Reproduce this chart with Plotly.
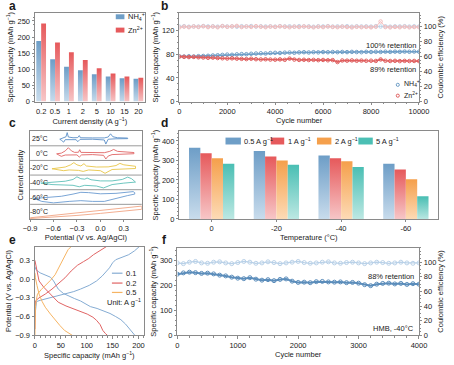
import plotly.graph_objects as go

W, H = 454, 365
FONT = "Liberation Sans, Arial, Helvetica, sans-serif"
TXT = "#1a1a1a"
AX = "#8a8a8a"

# ---------------- data ----------------
# panel a
rates_a = ["0.2", "0.5", "1", "2", "5", "10", "15", "20"]
nh4_rate_cap = [188, 131, 108, 97, 85, 78, 72, 71]
zn_rate_cap = [242, 183, 153, 129, 103, 87, 78, 74]

# panel b (every 200 cycles)
b_step = 200
nh4_cap = [76.5, 76.1, 76.6, 76.2, 76.8, 77.1, 77.4, 77.9, 78.3, 78.9,
           79.4, 79.1, 79.8, 80.3, 80.1, 80.8, 81.2, 81.6, 81.3, 82.0,
           82.4, 82.1, 82.7, 82.9, 82.5, 83.1, 83.4, 83.0, 83.5, 83.2,
           83.7, 83.4, 83.8, 83.5, 83.9, 83.6, 84.0, 83.7, 83.5, 84.1,
           83.8, 84.2, 83.9, 84.3, 84.0, 84.4, 84.1, 84.5, 84.2, 84.6, 84.3]
zn_cap = [76.0, 75.6, 75.2, 75.5, 74.8, 74.5, 74.0, 74.3, 73.6, 73.2,
          72.8, 73.1, 72.5, 72.2, 71.8, 72.4, 71.6, 71.2, 71.5, 71.0,
          70.8, 71.3, 70.6, 72.6, 71.0, 70.4, 70.7, 70.2, 70.5, 70.0,
          70.3, 69.8, 70.1, 66.8, 69.5, 69.2, 69.6, 69.0, 69.3, 68.9,
          69.1, 68.7, 71.2, 69.0, 68.6, 68.9, 68.4, 68.8, 68.5, 68.7, 68.4]
zn_ce = [98.5, 99.6, 98.9, 99.8, 99.2, 100.1, 99.0, 99.7, 98.8, 100.3,
         99.4, 99.9, 100.6, 99.1, 99.8, 99.3, 100.2, 99.5, 98.9, 99.7,
         99.2, 100.0, 99.4, 98.8, 99.6, 99.1, 99.9, 99.3, 98.7, 99.5,
         99.0, 99.8, 99.2, 98.9, 99.6, 99.1, 98.6, 99.4, 98.9, 99.3,
         98.7, 99.5, 106.5, 99.0, 98.6, 99.2, 98.8, 99.4, 98.7, 99.1, 98.9]
nh4_ce = [99.8, 100.2, 99.5, 100.0, 99.7, 100.4, 99.9, 100.1, 99.6, 100.3,
          99.8, 100.0, 99.5, 100.2, 99.9, 100.4, 99.7, 100.1, 99.8, 100.0,
          99.6, 100.3, 99.9, 100.1, 99.7, 100.2, 99.8, 100.0, 99.5, 100.1,
          99.9, 100.3, 99.7, 100.0, 99.8, 100.2, 99.6, 100.1, 99.9, 100.0,
          99.7, 100.2, 99.8, 100.1, 99.6, 100.0, 99.9, 100.2, 99.7, 100.1, 99.8]

# panel c  (potential V, normalized current per temperature)
cv_temps = ["25°C", "0°C", "-20°C", "-40°C", "-60°C", "-80°C"]
cv_colors = ["#5b8fc7", "#e06464", "#e8c547", "#5dbfb8", "#6b9bd0", "#f0a584"]
cv_v = [
    [-0.52, -0.47, -0.44, -0.425, -0.41, -0.35, -0.29, -0.27, -0.255, -0.1, 0.05, 0.1, 0.13, 0.16, 0.22, 0.35,
     0.35, 0.2, 0.1, 0.07, 0.05, -0.1, -0.26, -0.29, -0.31, -0.45, -0.47, -0.5, -0.52],
    [-0.56, -0.5, -0.45, -0.41, -0.37, -0.33, -0.28, -0.265, -0.25, -0.1, 0.05, 0.12, 0.17, 0.22, 0.32, 0.43,
     0.43, 0.3, 0.15, 0.1, 0.07, 0.04, -0.1, -0.24, -0.27, -0.3, -0.45, -0.5, -0.53, -0.56],
    [-0.62, -0.55, -0.45, -0.38, -0.34, -0.3, -0.25, -0.21, -0.18, -0.05, 0.1, 0.2, 0.25, 0.3, 0.45,
     0.45, 0.3, 0.15, 0.06, 0.0, -0.15, -0.22, -0.28, -0.4, -0.47, -0.55, -0.62],
    [-0.76, -0.6, -0.45, -0.35, -0.3, -0.25, -0.2, -0.17, -0.12, 0.0, 0.15, 0.28, 0.35, 0.4, 0.45,
     0.45, 0.3, 0.15, 0.04, -0.05, -0.2, -0.27, -0.35, -0.5, -0.62, -0.76],
    [-0.85, -0.7, -0.5, -0.35, -0.25, -0.15, 0.0, 0.2, 0.35, 0.42, 0.44,
     0.44, 0.35, 0.2, 0.05, -0.1, -0.25, -0.4, -0.6, -0.75, -0.85],
    [-0.9, -0.6, -0.3, 0.0, 0.3, 0.53,
     0.53, 0.3, 0.0, -0.3, -0.6, -0.9],
]
cv_i = [
    [-0.05, 0.03, 0.12, 0.4, 0.1, 0.05, 0.06, 0.2, 0.05, 0.04, 0.04, 0.1, 0.32, 0.12, 0.05, 0.03,
     -0.01, -0.02, -0.05, -0.38, -0.1, -0.05, -0.06, -0.22, -0.08, -0.08, -0.25, -0.12, -0.05],
    [-0.05, 0.0, 0.15, 0.37, 0.15, 0.05, 0.06, 0.23, 0.05, 0.02, 0.03, 0.12, 0.25, 0.12, 0.06, 0.04,
     -0.04, -0.08, -0.1, -0.2, -0.4, -0.15, -0.1, -0.12, -0.27, -0.12, -0.13, -0.22, -0.12, -0.05],
    [-0.07, -0.02, 0.05, 0.2, 0.35, 0.2, 0.12, 0.28, 0.12, 0.05, 0.06, 0.15, 0.3, 0.2, 0.1,
     -0.05, -0.08, -0.12, -0.38, -0.2, -0.15, -0.25, -0.18, -0.15, -0.2, -0.12, -0.07],
    [-0.05, 0.0, 0.08, 0.2, 0.38, 0.25, 0.22, 0.3, 0.18, 0.1, 0.1, 0.2, 0.36, 0.25, 0.08,
     0.02, -0.05, -0.15, -0.38, -0.25, -0.2, -0.3, -0.2, -0.18, -0.15, -0.05],
    [-0.1, -0.05, 0.05, 0.2, 0.32, 0.3, 0.22, 0.25, 0.32, 0.37, 0.3,
     0.2, 0.1, -0.1, -0.3, -0.3, -0.25, -0.3, -0.4, -0.3, -0.1],
    [-0.42, -0.25, -0.08, 0.08, 0.22, 0.38,
     0.16, 0.02, -0.12, -0.26, -0.38, -0.47],
]

# panel d
temps_d = ["0", "-20", "-40", "-60"]
d_labels = ["0.5 A g<sup>−1</sup>", "1 A g<sup>−1</sup>", "2 A g<sup>−1</sup>", "5 A g<sup>−1</sup>"]
d_vals = [
    [365, 348, 325, 283],   # 0.5 A/g
    [337, 320, 311, 253],   # 1 A/g
    [311, 300, 296, 203],   # 2 A/g
    [283, 278, 267, 117],   # 5 A/g
]

# panel e
e_labels = ["0.1", "0.2", "0.5"]
e_colors = ["#85acd3", "#e06464", "#f6b463"]
e_dis_cap = [
    [0, 2, 10, 20, 30, 36, 45, 55, 64, 76, 88, 100, 107, 120, 131, 145, 156, 166, 175, 183, 190, 193],
    [0, 2, 8, 17, 27, 36, 45, 60, 76, 90, 101, 112, 119, 126, 131, 136, 140],
    [0, 1, 4, 8, 14, 20, 30, 39, 48, 57, 66, 73, 76],
]
e_dis_pot = [
    [0.2, 0.15, 0.1, 0.07, 0.03, -0.03, -0.16, -0.23, -0.27, -0.31, -0.35, -0.41, -0.44, -0.47, -0.5, -0.55, -0.6, -0.65, -0.72, -0.8, -0.87, -0.9],
    [0.3, 0.2, -0.03, -0.13, -0.22, -0.3, -0.37, -0.43, -0.48, -0.52, -0.56, -0.61, -0.66, -0.73, -0.82, -0.87, -0.9],
    [0.1, 0.02, -0.1, -0.24, -0.36, -0.45, -0.56, -0.66, -0.74, -0.82, -0.87, -0.9, -0.92],
]
e_chg_cap = [
    [0, 3, 10, 20, 35, 57, 75, 88, 105, 119, 130, 144, 150, 156, 170, 181, 192, 199, 203],
    [0, 1, 8, 20, 33, 45, 58, 70, 82, 94, 104, 113, 125, 138, 142],
    [0, 1, 3, 5, 12, 20, 30, 39, 45, 51, 58, 64, 70, 74],
]
e_chg_pot = [
    [-0.6, -0.36, -0.34, -0.32, -0.29, -0.24, -0.2, -0.16, -0.1, -0.03, 0.05, 0.18, 0.26, 0.31, 0.35, 0.39, 0.45, 0.5, 0.53],
    [-0.8, -0.35, -0.3, -0.24, -0.16, -0.08, 0.02, 0.13, 0.22, 0.28, 0.33, 0.39, 0.45, 0.52, 0.54],
    [-0.9, -0.45, -0.32, -0.24, -0.17, -0.11, -0.02, 0.07, 0.17, 0.28, 0.38, 0.47, 0.52, 0.55],
]

# panel f (every 100 cycles)
f_step = 100
f_cap = [244, 249, 252, 250, 247, 248, 245, 240, 237, 232,
         228, 226, 230, 224, 220, 222, 218, 223, 225, 216,
         211, 212, 210, 214, 215, 213, 212, 213, 210, 211,
         208, 202, 198, 204, 207, 208, 205, 207, 203, 206, 204]
f_ce = [99, 98, 100, 101, 99, 98.5, 100, 100.5, 99, 98,
        99.5, 101, 100, 98.5, 99, 100.5, 99.5, 98, 99, 100,
        101, 99.5, 98.5, 99, 100, 100.5, 99, 98.5, 99.5, 100,
        99, 98, 99, 100, 99.5, 98.5, 99, 100, 99, 98.5, 99]

# colours for gradient bars (dark top, light bottom)
BLUE = ("#6e9ec7", "#cadded")
RED = ("#e65a5c", "#f7c8c9")
ORANGE = ("#f5a04c", "#fddcb8")
TEAL = ("#4bbfb4", "#bfe9e4")

# ---------------- helpers ----------------
def xdom(x0, x1):
    return [x0 / W, x1 / W]

def ydom(y0, y1):
    return [1 - y1 / H, 1 - y0 / H]

def PX(x):
    return x / W

def PY(y):
    return 1 - y / H

fig = go.Figure()

def grad_bar(xc, val, w, cols, xa, ya, name):
    fig.add_trace(go.Scatter(
        x=[xc - w / 2, xc - w / 2, xc + w / 2, xc + w / 2, xc - w / 2],
        y=[0, val, val, 0, 0], mode="lines", fill="toself",
        fillgradient=dict(type="vertical", start=0, stop=val,
                          colorscale=[[0, cols[1]], [1, cols[0]]]),
        line=dict(width=0, color=cols[0]), xaxis=xa, yaxis=ya,
        showlegend=False, name=name, hovertemplate=f"{name}: {val}<extra></extra>"))

shapes = []
annos = []

def rect(x0, y0, x1, y1, color):
    shapes.append(dict(type="rect", xref="paper", yref="paper", x0=PX(x0), x1=PX(x1),
                       y0=PY(y1), y1=PY(y0), fillcolor=color, line=dict(width=0)))

def hline(x0, x1, y, color, width=1.2):
    shapes.append(dict(type="line", xref="paper", yref="paper", x0=PX(x0), x1=PX(x1),
                       y0=PY(y), y1=PY(y), line=dict(color=color, width=width)))

def circ(x, y, r, color):
    shapes.append(dict(type="circle", xref="paper", yref="paper", x0=PX(x - r), x1=PX(x + r),
                       y0=PY(y + r), y1=PY(y - r), line=dict(color=color, width=1)))

def text(x, y, s, anchor="left", size=7.5, bold=False):
    annos.append(dict(x=PX(x), y=PY(y), xref="paper", yref="paper", text=f"<b>{s}</b>" if bold else s,
                      showarrow=False, xanchor=anchor, yanchor="middle",
                      font=dict(size=size, color=TXT, family=FONT)))

# ---------------- panel a ----------------
bw = 0.35
for i, (v1, v2) in enumerate(zip(nh4_rate_cap, zn_rate_cap)):
    grad_bar(i - bw / 2, v1, bw, BLUE, "x", "y", "NH4+")
    grad_bar(i + bw / 2, v2, bw, RED, "x", "y", "Zn2+")
rect(113, 14.5, 122, 19.5, BLUE[0])
text(124, 17, "NH<sub>4</sub><sup>+</sup>")
rect(113, 28, 122, 33, RED[0])
text(124, 30.5, "Zn<sup>2+</sup>")

# ---------------- panel b ----------------
cyc_b = [i * b_step for i in range(len(nh4_cap))]
fig.add_trace(go.Scatter(x=cyc_b, y=nh4_ce, mode="lines+markers", xaxis="x2", yaxis="y3",
                         line=dict(color="#bcd3e8", width=1.0),
                         marker=dict(symbol="circle-open", size=3.5, color="#bcd3e8"), showlegend=False, name="NH4+ CE"))
fig.add_trace(go.Scatter(x=cyc_b, y=zn_ce, mode="lines+markers", xaxis="x2", yaxis="y3",
                         line=dict(color="#f3bcbc", width=1.0),
                         marker=dict(symbol="circle-open", size=3.5, color="#f3bcbc"), showlegend=False, name="Zn2+ CE"))
fig.add_trace(go.Scatter(x=cyc_b, y=nh4_cap, mode="lines+markers", xaxis="x2", yaxis="y2",
                         line=dict(color="#6e9ec7", width=1.6),
                         marker=dict(symbol="circle-open", size=3.5, color="#6e9ec7"), showlegend=False, name="NH4+"))
fig.add_trace(go.Scatter(x=cyc_b, y=zn_cap, mode="lines+markers", xaxis="x2", yaxis="y2",
                         line=dict(color="#e05f5f", width=1.6),
                         marker=dict(symbol="circle-open", size=3.5, color="#e05f5f"), showlegend=False, name="Zn2+"))
text(427, 46, "100% retention", anchor="right")
text(427, 70, "89% retention", anchor="right")
circ(406, 86, 1.6, "#6e9ec7")
text(410, 85, "NH<sub>4</sub><sup>+</sup>", size=7)
circ(406, 97, 1.6, "#e05f5f")
text(410, 96.5, "Zn<sup>2+</sup>", size=7)

# ---------------- panel c ----------------
n = len(cv_temps)
for k in range(n):
    off = n - 1 - k + 0.5
    fig.add_trace(go.Scatter(x=cv_v[k], y=[off + c for c in cv_i[k]], mode="lines", xaxis="x3", yaxis="y4",
                             line=dict(color=cv_colors[k], width=0.9), showlegend=False, name=cv_temps[k]))
for j in range(1, n):
    y = 133 + j * (222 - 133) / n
    hline(24, 140, y, "#9a9a9a", 1.0)
for k in range(n):
    yc = 133 + (k + 0.5) * (222 - 133) / n
    text(45, yc, cv_temps[k], anchor="right", size=7)

# ---------------- panel d ----------------
dcols = [BLUE, RED, ORANGE, TEAL]
bwd = 0.175
for s in range(4):
    for g in range(4):
        grad_bar(g + (s - 1.5) * bwd, d_vals[s][g], bwd, dcols[s], "x4", "y5", d_labels[s])
leg_x = [(227, 243), (274, 288), (322, 337), (365, 380)]
for s in range(4):
    rect(leg_x[s][0], 139.5, leg_x[s][1], 146.5, dcols[s][0])
    text(leg_x[s][1] + 1.5, 143, d_labels[s])

# ---------------- panel e ----------------
for k in range(3):
    fig.add_trace(go.Scatter(x=e_dis_cap[k] + [None] + e_chg_cap[k],
                             y=e_dis_pot[k] + [None] + e_chg_pot[k], mode="lines",
                             xaxis="x5", yaxis="y6", line=dict(color=e_colors[k], width=1.0),
                             showlegend=False, name=e_labels[k] + " A g-1"))
ey = [277, 287, 296.5]
for k in range(3):
    hline(109, 120, ey[k], e_colors[k], 1.2)
    text(122, ey[k], e_labels[k])
text(102, 306, "Unit: A g<sup>−1</sup>")

# ---------------- panel f ----------------
cyc_f = [i * f_step for i in range(len(f_cap))]
fig.add_trace(go.Scatter(x=cyc_f, y=f_ce, mode="lines+markers", xaxis="x6", yaxis="y8",
                         line=dict(color="#b9d1e8", width=1.2),
                         marker=dict(symbol="circle-open", size=4, color="#b9d1e8"), showlegend=False, name="CE"))
fig.add_trace(go.Scatter(x=cyc_f, y=f_cap, mode="lines+markers", xaxis="x6", yaxis="y7",
                         line=dict(color="#5b8dbb", width=2.0),
                         marker=dict(symbol="circle-open", size=4, color="#5b8dbb"), showlegend=False, name="Capacity"))
text(425, 280, "88% retention", anchor="right")
text(425, 333, "HMB, -40°C", anchor="right")

# panel letters
for L, (x, y) in zip("abcdef", [(6, 6), (164, 6), (6, 125), (164, 125), (6, 243), (164, 243)]):
    text(x, y, L, anchor="center", size=12, bold=True)

# ---------------- axes ----------------
def ax(**kw):
    base = dict(showline=True, linecolor=AX, linewidth=0.8, ticks="outside", ticklen=2.5,
                tickwidth=0.8, tickcolor=AX, tickfont=dict(size=7.5, color=TXT, family=FONT),
                showgrid=False, zeroline=False, title_font=dict(size=7.5, color=TXT, family=FONT))
    base.update(kw)
    return base

CAP = "Specific capacity (mAh g<sup>−1</sup>)"
CE = "Coulombic efficiency (%)"
minor = dict(ticks="outside", ticklen=1.5, tickcolor=AX)

fig.update_layout(
    width=W, height=H, margin=dict(l=0, r=0, t=0, b=0),
    plot_bgcolor="white", paper_bgcolor="white", showlegend=False,
    font=dict(family=FONT, size=7.5, color=TXT),
    # a
    xaxis=ax(domain=xdom(29, 143), anchor="y", range=[-0.45, 7.45], tickvals=list(range(8)),
             ticktext=rates_a, mirror=True, title=dict(text="Current density (A g<sup>−1</sup>)", standoff=1)),
    yaxis=ax(domain=ydom(13, 103), anchor="x", range=[0, 275], tickvals=[0, 50, 100, 150, 200, 250],
             mirror=True, minor=minor, title=dict(text=CAP, standoff=2)),
    # b
    xaxis2=ax(domain=xdom(179, 428), anchor="y2", range=[0, 10000], tickvals=list(range(0, 10001, 2000)),
              tickformat="d", mirror=True, minor=minor, title=dict(text="Cycle number", standoff=1)),
    yaxis2=ax(domain=ydom(13, 103), anchor="x2", range=[0, 150], tickvals=[0, 40, 80, 120],
              minor=minor, title=dict(text=CAP, standoff=2)),
    yaxis3=ax(domain=ydom(13, 103), anchor="x2", overlaying="y2", side="right", range=[0, 118],
              tickvals=[0, 20, 40, 60, 80, 100], minor=minor, title=dict(text=CE, standoff=2)),
    # c
    xaxis3=ax(domain=xdom(24, 140), anchor="y4", range=[-0.9, 0.53], tickvals=[-0.9, -0.6, -0.3, 0.0, 0.3],
              tickformat=".1f", mirror=True, title=dict(text="Potential (V vs. Ag/AgCl)", standoff=1)),
    yaxis4=ax(domain=ydom(133, 222), anchor="x3", range=[0, 6], showticklabels=False, ticks="",
              mirror=True, title=dict(text="Current density", standoff=4)),
    # d
    xaxis4=ax(domain=xdom(179, 448), anchor="y5", range=[-0.5, 3.5], tickvals=list(range(4)),
              ticktext=temps_d, mirror=True, title=dict(text="Temperature (°C)", standoff=1)),
    yaxis5=ax(domain=ydom(133, 222), anchor="x4", range=[0, 450], tickvals=[0, 100, 200, 300, 400],
              mirror=True, minor=minor, title=dict(text=CAP, standoff=2)),
    # e
    xaxis5=ax(domain=xdom(29, 142), anchor="y6", range=[0, 210], tickvals=[0, 50, 100, 150, 200],
              mirror=True, minor=minor, title=dict(text=CAP, standoff=1)),
    yaxis6=ax(domain=ydom(250, 340), anchor="x5", range=[-0.9, 0.52], tickvals=[-0.9, -0.6, -0.3, 0.0, 0.3],
              tickformat=".1f", mirror=True, title=dict(text="Potential (V vs. Ag/AgCl)", standoff=2)),
    # f
    xaxis6=ax(domain=xdom(177, 428), anchor="y7", range=[0, 4000], tickvals=list(range(0, 4001, 1000)),
              mirror=True, minor=minor, title=dict(text="Cycle number", standoff=1)),
    yaxis7=ax(domain=ydom(251, 340), anchor="x6", range=[0, 350], tickvals=[0, 100, 200, 300],
              minor=minor, title=dict(text=CAP, standoff=2)),
    yaxis8=ax(domain=ydom(251, 340), anchor="x6", overlaying="y7", side="right", range=[0, 120],
              tickvals=[0, 20, 40, 60, 80, 100], minor=minor, title=dict(text=CE, standoff=2)),
    shapes=shapes, annotations=annos,
)

fig.write_html("out.html", config={"displayModeBar": False},
               post_script="document.body.style.margin='0';document.body.style.overflow='hidden';")
